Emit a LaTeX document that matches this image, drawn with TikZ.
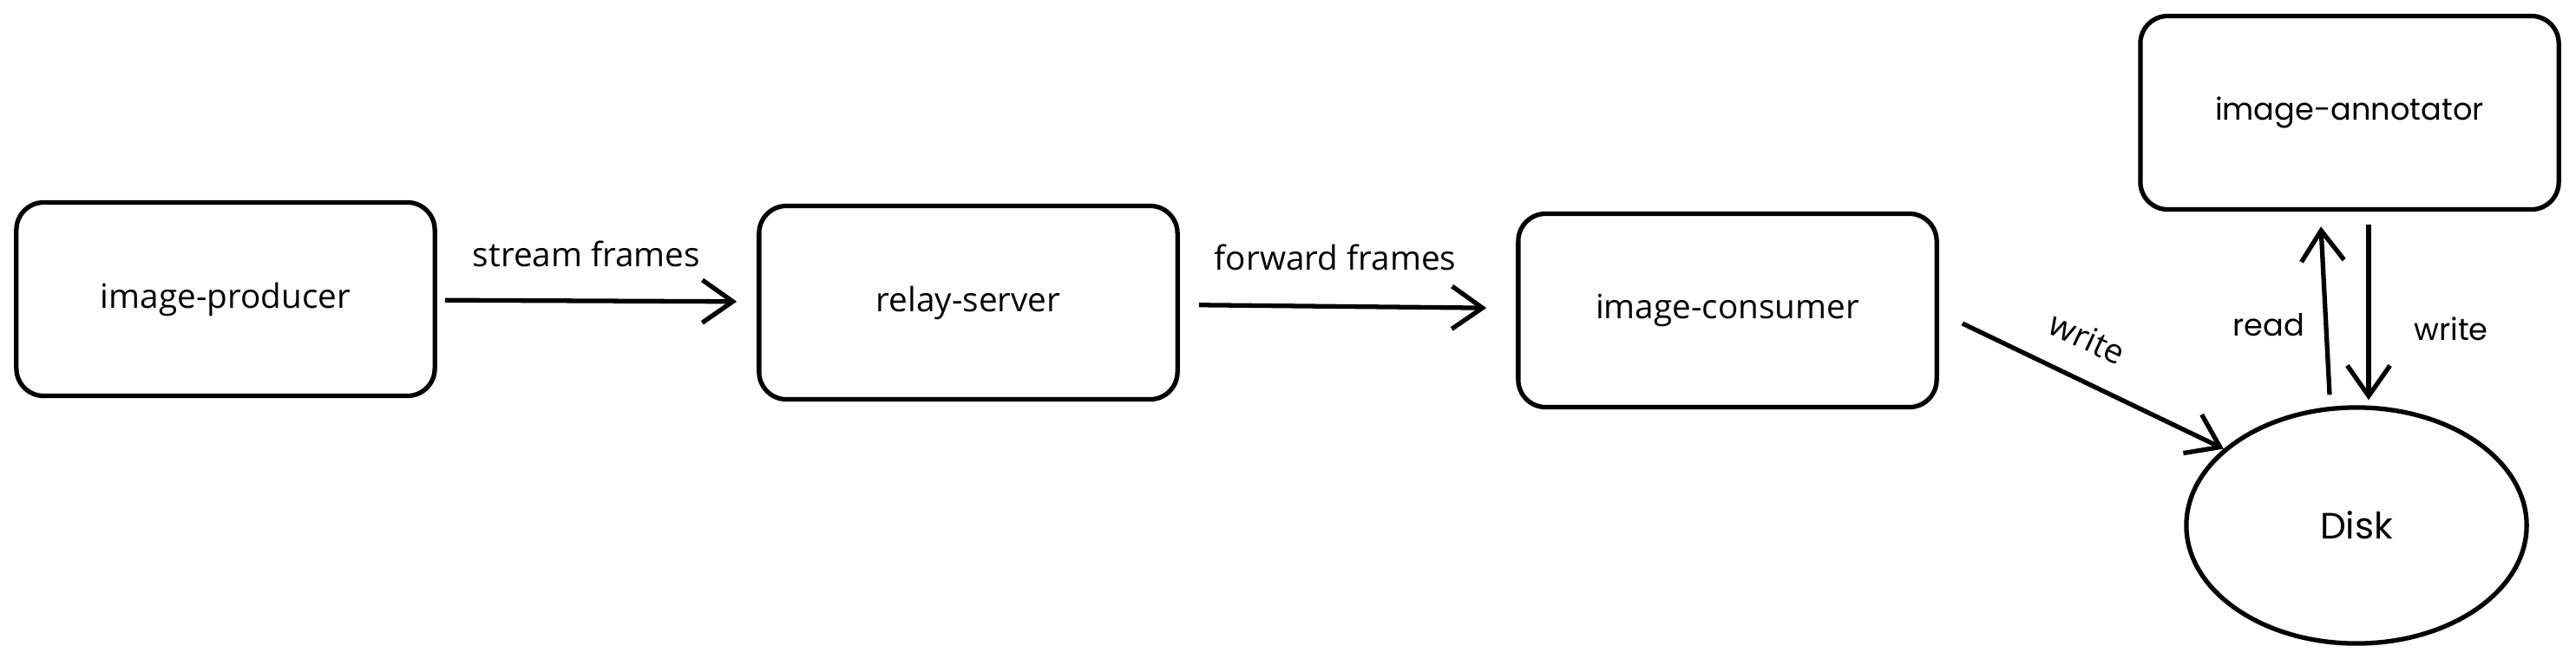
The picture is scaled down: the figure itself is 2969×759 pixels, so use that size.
\documentclass[tikz,border=0pt]{standalone}
\usepackage{fontspec}
\setmainfont{Open Sans}
\newfontfamily\annofont{Poppins}
\usetikzlibrary{positioning, shapes.geometric, arrows.meta}

\begin{document}
\begin{tikzpicture}[
  x=0.01cm, y=-0.01cm,
  box/.style={rectangle, rounded corners=9pt, draw, line width=1.5pt,
              minimum width=4.82cm, minimum height=2.23cm,
              align=center, font=\fontsize{11}{13}\selectfont},
  store/.style={ellipse, draw, line width=1.5pt, inner sep=0pt,
                minimum width=3.92cm, minimum height=2.72cm,
                font=\annofont\fontsize{12}{14}\selectfont},
  lbl/.style={font=\fontsize{11}{13}\selectfont},
  rlbl/.style={font=\annofont\fontsize{10}{12}\selectfont},
  arr/.style={-{Straight Barb[length=10pt, width=14pt]}, line width=1.5pt}
]
  \useasboundingbox (0,0) rectangle (2969,759);

  \node[box] (producer) at (260,345)  {image-producer};
  \node[box] (relay)    at (1116,349) {relay-server};
  \node[box] (consumer) at (1991,358) {image-consumer};
  \node[box, font=\annofont\fontsize{10}{12}\selectfont]
             (annotator) at (2708,130) {image-annotator};
  \node[store] (disk)   at (2716,606) {Disk};

  \node[lbl] (lstream)  at (676,293)  {stream frames};
  \node[lbl] (lforward) at (1539,297) {forward frames};
  \node[lbl, rotate=-25, inner sep=1pt] (lwrite) at (2406,390) {write};
  \node[rlbl] (lread)   at (2615,375) {read};
  \node[rlbl] (lwrite2) at (2825,379) {write};

  \draw[arr, shorten <=0.09cm, shorten >=0.23cm] (producer) -- (relay);
  \draw[arr, shorten <=0.22cm, shorten >=0.34cm] (relay) -- (consumer);
  \draw[arr] ([shift={(27,15)}]consumer.east) -- (disk.150);
  \draw[arr] ([shift={(-31,-12)}]disk.north) -- ([shift={(-33,17)}]annotator.south);
  \draw[arr] ([shift={(22,15)}]annotator.south) -- ([shift={(14,-6)}]disk.north);
\end{tikzpicture}
\end{document}
